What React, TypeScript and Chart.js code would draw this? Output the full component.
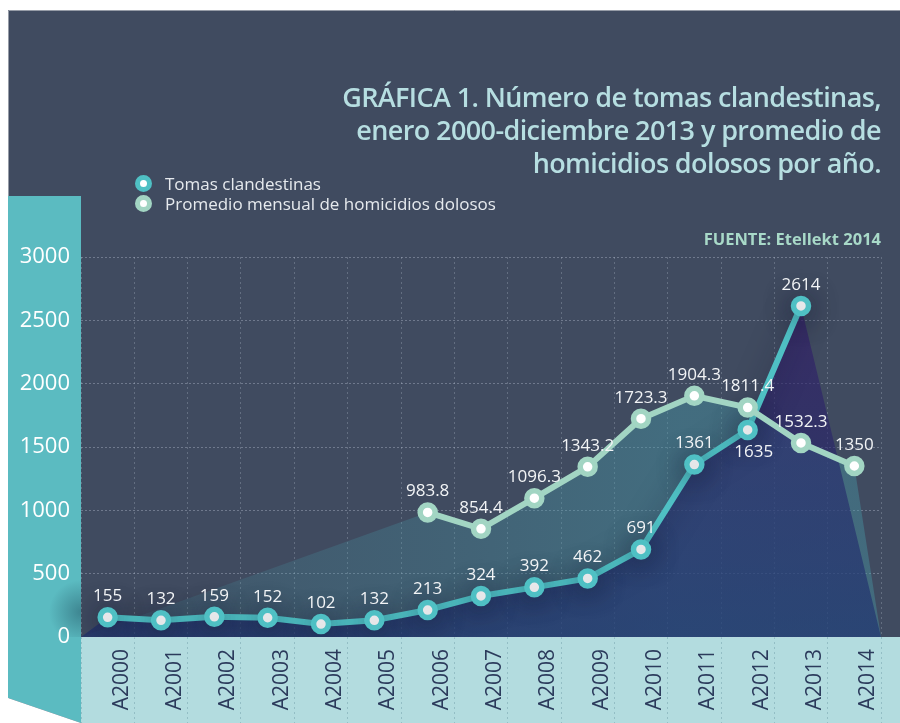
import React, { useEffect, useRef } from "react";
import { Chart, registerables } from "chart.js";

Chart.register(...registerables);

const years = ["A2000", "A2001", "A2002", "A2003", "A2004", "A2005", "A2006", "A2007", "A2008", "A2009", "A2010", "A2011", "A2012", "A2013", "A2014"];
const tomasClandestinas: (number | null)[] = [155, 132, 159, 152, 102, 132, 213, 324, 392, 462, 691, 1361, 1635, 2614, null];
const homicidiosDolosos: (number | null)[] = [null, null, null, null, null, null, 983.8, 854.4, 1096.3, 1343.2, 1723.3, 1904.3, 1811.4, 1532.3, 1350];
const yTickValues = [0, 500, 1000, 1500, 2000, 2500, 3000];
const seriesNames = ["Tomas clandestinas", "Promedio mensual de homicidios dolosos"];
const titleLines = ["GRÁFICA 1. Número de tomas clandestinas,", "enero 2000-diciembre 2013 y promedio de", "homicidios dolosos por año."];
const sourceNote = "FUENTE: Etellekt 2014";
const tomasLabelsBelow = [12];

const TEAL = "#4fc0c4";
const MINT = "#a2d5c3";
const FONT = '"Open Sans", "Noto Sans", sans-serif';
const X_MIN = -0.5;
const X_MAX = years.length - 0.5;

const toPoints = (vals: (number | null)[]) =>
  vals.map((v, i) => ({ x: i, y: v })).filter((p) => p.y !== null) as { x: number; y: number }[];
const areaPoints = (vals: (number | null)[]) => [{ x: X_MIN, y: 0 }, ...toPoints(vals), { x: X_MAX, y: 0 }];

const backgroundPlugin = {
  id: "bgDecor",
  beforeDraw(chart: any) {
    const { ctx, chartArea, width, height } = chart;
    ctx.save();
    ctx.fillStyle = "#ffffff";
    ctx.fillRect(0, 0, width, height);
    ctx.fillStyle = "#404b60";
    ctx.fillRect(8, 10, width - 8, height - 10);
    ctx.strokeStyle = "rgba(160,165,175,0.9)";
    ctx.lineWidth = 1;
    ctx.beginPath();
    ctx.moveTo(8.5, height);
    ctx.lineTo(8.5, 10.5);
    ctx.lineTo(width, 10.5);
    ctx.stroke();
    ctx.fillStyle = "#5bbbc1";
    ctx.beginPath();
    ctx.moveTo(8, 196);
    ctx.lineTo(chartArea.left, 196);
    ctx.lineTo(chartArea.left, height);
    ctx.lineTo(8, height - 25);
    ctx.closePath();
    ctx.fill();
    ctx.fillStyle = "#ffffff";
    ctx.beginPath();
    ctx.moveTo(0, height - 25);
    ctx.lineTo(8, height - 25);
    ctx.lineTo(chartArea.left, height);
    ctx.lineTo(0, height);
    ctx.closePath();
    ctx.fill();
    const g = ctx.createRadialGradient(chartArea.left, chartArea.bottom - 25, 2, chartArea.left, chartArea.bottom - 25, 32);
    g.addColorStop(0, "rgba(40,95,110,0.55)");
    g.addColorStop(1, "rgba(40,95,110,0)");
    ctx.fillStyle = g;
    ctx.fillRect(chartArea.left - 40, chartArea.bottom - 60, 40, 60);
    ctx.fillStyle = "#b3dcdf";
    ctx.fillRect(chartArea.left, chartArea.bottom, width - chartArea.left, height - chartArea.bottom);
    ctx.restore();
  },
};

const shadowPlugin = {
  id: "lineShadow",
  beforeDatasetDraw(chart: any, args: any) {
    const ds = chart.data.datasets[args.index];
    if (!ds.castShadow) return;
    chart.ctx.save();
    chart.ctx.shadowColor = "rgba(15,20,45,0.5)";
    chart.ctx.shadowBlur = 26;
    chart.ctx.shadowOffsetY = 2;
  },
  afterDatasetDraw(chart: any, args: any) {
    const ds = chart.data.datasets[args.index];
    if (!ds.castShadow) return;
    chart.ctx.restore();
  },
};

const valueLabelPlugin = {
  id: "valueLabels",
  afterDatasetsDraw(chart: any) {
    const { ctx } = chart;
    ctx.save();
    ctx.font = `17px ${FONT}`;
    ctx.fillStyle = "#f2f4f6";
    ctx.textAlign = "center";
    ctx.textBaseline = "middle";
    chart.data.datasets.forEach((ds: any, di: number) => {
      if (!ds.showValues) return;
      const meta = chart.getDatasetMeta(di);
      meta.data.forEach((el: any, i: number) => {
        const raw = ds.data[i];
        if (!raw || raw.y == null) return;
        const below = (ds.labelsBelow || []).includes(raw.x);
        ctx.fillText(String(raw.y), el.x + (below ? 6 : 0), el.y + (below ? 22 : -21));
      });
    });
    ctx.restore();
  },
};

export default function App() {
  const canvasRef = useRef<HTMLCanvasElement | null>(null);

  useEffect(() => {
    if (!canvasRef.current) return;
    const lineStyle = (color: string) => ({
      borderColor: color,
      borderWidth: 6,
      pointRadius: 7.5,
      pointBorderWidth: 5.5,
      pointBackgroundColor: "#ffffff",
      pointBorderColor: color,
      fill: false,
      tension: 0,
      showValues: true,
    });
    const chart = new Chart(canvasRef.current, {
      type: "line",
      data: {
        datasets: [
          { label: seriesNames[0], data: toPoints(tomasClandestinas), order: 2, labelsBelow: tomasLabelsBelow, castShadow: true, ...lineStyle(TEAL) } as any,
          { label: seriesNames[1], data: toPoints(homicidiosDolosos), order: 1, ...lineStyle(MINT) } as any,
          {
            label: "area-homicidios",
            data: areaPoints(homicidiosDolosos),
            order: 4,
            borderWidth: 0,
            borderColor: "transparent",
            pointRadius: 0,
            fill: "origin",
            backgroundColor: (c: any) => {
              const { chart: ch } = c;
              const area = ch.chartArea;
              if (!area) return "rgba(70,150,165,0.3)";
              const gr = ch.ctx.createLinearGradient(area.left, 0, area.right, 0);
              gr.addColorStop(0, "rgba(70,150,165,0.12)");
              gr.addColorStop(0.45, "rgba(70,150,165,0.3)");
              gr.addColorStop(0.75, "rgba(70,150,165,0.45)");
              gr.addColorStop(1, "rgba(70,150,165,0.42)");
              return gr;
            },
          },
          {
            label: "area-tomas",
            data: areaPoints(tomasClandestinas),
            order: 3,
            borderWidth: 0,
            borderColor: "transparent",
            pointRadius: 0,
            fill: "origin",
            backgroundColor: (c: any) => {
              const { chart: ch } = c;
              const area = ch.chartArea;
              if (!area) return "rgba(30,40,105,0.58)";
              const top = ch.scales.y.getPixelForValue(2700);
              const gr = ch.ctx.createLinearGradient(0, top, 0, area.bottom);
              gr.addColorStop(0, "rgba(52,24,106,0.6)");
              gr.addColorStop(0.5, "rgba(36,34,106,0.58)");
              gr.addColorStop(1, "rgba(26,44,110,0.6)");
              return gr;
            },
          },
        ],
      },
      options: {
        responsive: false,
        animation: false,
        events: [],
        layout: { padding: { top: 257, right: 19, left: 0, bottom: 0 } },
        plugins: { legend: { display: false }, tooltip: { enabled: false }, title: { display: false } },
        scales: {
          x: {
            type: "linear",
            min: X_MIN,
            max: X_MAX,
            afterBuildTicks: (s: any) => {
              s.ticks = years.map((_, i) => ({ value: i }));
            },
            afterFit: (s: any) => {
              s.height = 86;
            },
            ticks: {
              autoSkip: false,
              maxRotation: 90,
              minRotation: 90,
              padding: -74,
              labelOffset: 14,
              color: "#2c3b5c",
              font: { family: FONT, size: 21 },
              callback: (v: any) => years[v as number] ?? "",
            },
            grid: {
              offset: true,
              color: "rgba(190,200,215,0.28)",
              lineWidth: 1,
              drawTicks: true,
              tickLength: 86,
              tickColor: "rgba(90,135,150,0.35)",
              tickBorderDash: [2, 3],
            },
            border: { display: false, dash: [2, 3] },
          },
          y: {
            type: "linear",
            min: 0,
            max: 3000,
            afterBuildTicks: (s: any) => {
              s.ticks = yTickValues.map((v) => ({ value: v }));
            },
            afterFit: (s: any) => {
              s.width = 81;
            },
            ticks: {
              color: "#ffffff",
              font: { family: FONT, size: 22 },
              padding: 11,
              callback: (v: any) => String(v),
            },
            grid: { color: "rgba(200,210,225,0.35)", lineWidth: 1, drawTicks: false },
            border: { display: false, dash: [2, 2] },
          },
        },
      } as any,
      plugins: [backgroundPlugin, shadowPlugin, valueLabelPlugin],
    });
    return () => chart.destroy();
  }, []);

  const marker = (color: string) => ({
    display: "inline-block",
    boxSizing: "border-box" as const,
    width: 17,
    height: 17,
    borderRadius: "50%",
    background: "#ffffff",
    border: `5px solid ${color}`,
    marginRight: 13,
    verticalAlign: "middle",
  });

  return (
    <div style={{ position: "fixed", left: 0, top: 0, width: 900, height: 723, overflow: "hidden", fontFamily: FONT }}>
      <canvas ref={canvasRef} width={900} height={723} style={{ position: "absolute", left: 0, top: 0 }} />
      <div
        style={{
          position: "absolute",
          right: 19,
          top: 80,
          textAlign: "right",
          color: "#b6dee1",
          fontSize: 27,
          fontWeight: 600,
          lineHeight: "33px",
          letterSpacing: -0.6,
          whiteSpace: "nowrap",
        }}
      >
        {titleLines.map((l) => (
          <div key={l}>{l}</div>
        ))}
      </div>
      <div style={{ position: "absolute", left: 135, top: 174, color: "#e6eaee", fontSize: 17, lineHeight: "19.5px", whiteSpace: "nowrap" }}>
        <div style={{ display: "flex", alignItems: "center" }}>
          <span style={marker(TEAL)} />
          <span>{seriesNames[0]}</span>
        </div>
        <div style={{ display: "flex", alignItems: "center" }}>
          <span style={marker(MINT)} />
          <span>{seriesNames[1]}</span>
        </div>
      </div>
      <div style={{ position: "absolute", right: 19, top: 229, color: "#a8d9c8", fontSize: 16.5, fontWeight: 700, lineHeight: "20px", whiteSpace: "nowrap" }}>
        {sourceNote}
      </div>
    </div>
  );
}
